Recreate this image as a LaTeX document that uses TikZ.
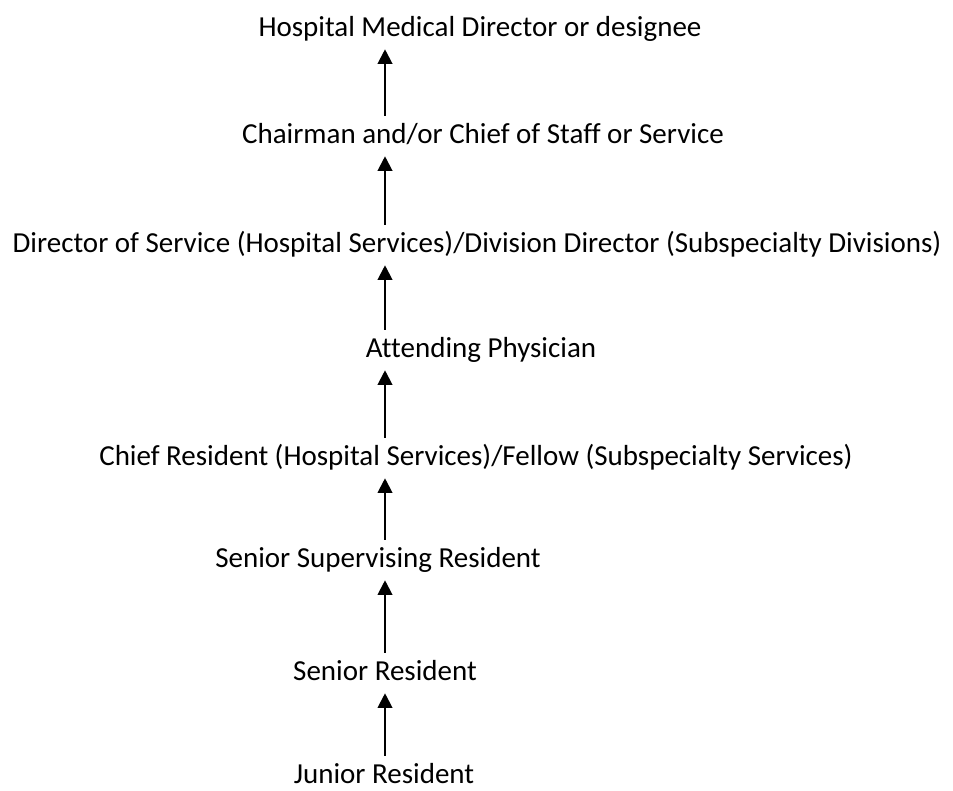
\documentclass[tikz,border=0pt]{standalone}
\usepackage{fontspec}
\setmainfont{Carlito}[Ligatures=CommonOff]
\usetikzlibrary{arrows.meta, positioning}

\begin{document}
\begin{tikzpicture}[x=0.75pt, y=-0.75pt,
        rank/.style={anchor=base, inner xsep=0pt, inner ysep=4.5pt, text height=15.75pt, text depth=5.25pt, font=\fontsize{21.75}{26}\selectfont},
        esc/.style={-{Triangle[length=11pt, width=11pt]}, line width=1.5pt}]
        \useasboundingbox (0,0) rectangle (953,790);

        % all arrows run up one column
        \coordinate (col) at (385,0);

        \node[rank] (hmd) at (480,36) {Hospital Medical Director or designee};
        \node[rank] (chair) at (483,143) {Chairman and/or Chief of Staff or Service};
        \node[rank] (dos) at (477,252) {Director of Service (Hospital Services)/Division Director (Subspecialty Divisions)};
        \node[rank] (att) at (481,357) {Attending Physician};
        \node[rank] (cr) at (476,465) {Chief Resident (Hospital Services)/Fellow (Subspecialty Services)};
        \node[rank] (ssr) at (378,567) {Senior Supervising Resident};
        \node[rank] (sr) at (385,680) {Senior Resident};
        \node[rank] (jr) at (384,783) {Junior Resident};

        \foreach \lo/\hi in {jr/sr, sr/ssr, ssr/cr, cr/att, att/dos, dos/chair, chair/hmd}
            \draw[esc] (\lo.north -| col) -- (\hi.south -| col);
    \end{tikzpicture}
\end{document}
